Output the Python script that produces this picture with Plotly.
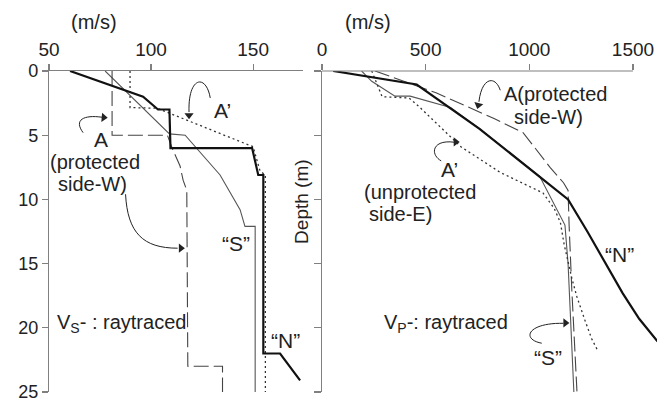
import plotly.graph_objects as go

# ---------------- data (left: Vs, right: Vp) ----------------
vs_N_v = [60.3, 96.1, 103.4, 109, 109.5, 149.5, 152.5, 155, 155, 163.2, 173]
vs_N_d = [0, 2.0, 3.0, 3.0, 6.0, 6.0, 8.1, 8.1, 22.0, 22.0, 24.1]
vs_S_v = [77.5, 109, 116.7, 133.8, 143.6, 146, 151, 151]
vs_S_d = [0, 4.9, 5.0, 8.1, 10.8, 12.1, 12.1, 25]
vs_A_v = [80.9, 80.9, 108, 110.3, 114.2, 115.7, 117.5, 118, 135, 135]
vs_A_d = [0, 5.0, 5.0, 6.0, 7.4, 8.5, 9.3, 23.0, 23.0, 25]
vs_Ap_v = [89.7, 89.7, 103, 150, 153.4, 156, 156]
vs_Ap_d = [0, 2.85, 2.9, 5.9, 7.8, 8.1, 25]

vp_N_v = [54, 457, 760, 1050, 1187, 1280, 1370, 1450, 1530, 1616, 1680]
vp_N_d = [0, 1.05, 4.5, 8.2, 10, 12.5, 15, 17.3, 19.3, 21, 22]
vp_S_v = [191, 240, 352, 425, 620, 760, 1050, 1109, 1172, 1187, 1215]
vp_S_d = [0, 0.8, 1.96, 1.96, 2.85, 4.5, 8.2, 10, 12, 15, 25]
vp_A_v = [256, 550, 830, 970, 1100, 1165, 1187, 1192, 1205, 1230]
vp_A_d = [0, 1.7, 3.7, 4.8, 7.5, 8.7, 9.3, 12, 17, 25]
vp_Ap_v = [240, 270, 290, 420, 470, 670, 860, 1066, 1120, 1150, 1168, 1206, 1230, 1268, 1302, 1331]
vp_Ap_d = [0, 1.3, 2.0, 2.1, 2.8, 5.9, 7.9, 9.5, 10.7, 11.8, 13.5, 16.2, 17.6, 19.4, 20.9, 21.8]

vs_ticks = [50, 100, 150]
vp_ticks = [0, 500, 1000, 1500]
depth_ticks = [0, 5, 10, 15, 20, 25]

FONT = "Liberation Sans, Arial, sans-serif"
TXT = "#222222"
AX = "#808080"

styles = {
    "N": dict(color="#111111", width=2.2),
    "S": dict(color="#555555", width=1.1),
    "A": dict(color="#444444", width=1.1, dash="15px,5px"),
    "Ap": dict(color="#333333", width=1.3, dash="2px,3px"),
}

fig = go.Figure()
for v, d, k in [(vs_S_v, vs_S_d, "S"), (vs_A_v, vs_A_d, "A"), (vs_Ap_v, vs_Ap_d, "Ap"), (vs_N_v, vs_N_d, "N")]:
    fig.add_trace(go.Scatter(x=v, y=d, mode="lines", line=styles[k], xaxis="x", yaxis="y",
                             showlegend=False, hoverinfo="skip"))
for v, d, k in [(vp_S_v, vp_S_d, "S"), (vp_A_v, vp_A_d, "A"), (vp_Ap_v, vp_Ap_d, "Ap"), (vp_N_v, vp_N_d, "N")]:
    fig.add_trace(go.Scatter(x=v, y=d, mode="lines", line=styles[k], xaxis="x2", yaxis="y2",
                             showlegend=False, hoverinfo="skip"))

axcommon = dict(showgrid=False, zeroline=False, linecolor=AX, linewidth=1.2, ticks="outside",
                tickcolor=AX, tickwidth=1.2, automargin=False, ticklabeloverflow="allow")
xfont = dict(family=FONT, size=19, color=TXT)
yfont = dict(family=FONT, size=18, color=TXT)

fig.update_layout(
    width=657, height=401,
    margin=dict(l=49, r=0, t=71, b=9, autoexpand=False),
    paper_bgcolor="white", plot_bgcolor="white",
    xaxis=dict(domain=[0, 0.418], range=[50, 174.5], side="top", tickvals=vs_ticks, ticklen=6,
               showline=True, anchor="y", tickfont=xfont, **axcommon),
    yaxis=dict(domain=[0, 1], range=[25, 0], tickvals=depth_ticks, ticklen=6, showline=True,
               anchor="x", tickfont=yfont, **axcommon),
    xaxis2=dict(domain=[0.449, 1.0], range=[0, 1616], side="top", tickvals=vp_ticks, ticklen=6,
                showline=False, anchor="y2", tickfont=xfont, **axcommon),
    yaxis2=dict(domain=[0, 1], range=[25, 0], tickvals=depth_ticks, ticklen=7, showline=True,
                showticklabels=False, anchor="x2", tickfont=yfont, **axcommon),
)

# right-panel top axis line only to 1500
fig.add_shape(type="line", xref="x2", yref="paper", x0=0, x1=1500, y0=1, y1=1,
              line=dict(color=AX, width=1.2))

# curved arrows (paths in data coords)
arrow_line = dict(color="#222222", width=1)
fig.add_shape(type="path", xref="x", yref="y", path="M 129,2.1 C 127,0.2 118,0.4 118.6,3.2", line=arrow_line)
fig.add_shape(type="path", xref="x", yref="y", path="M 66.7,4.8 C 62,3.8 67,3.4 76,3.6", line=arrow_line)
fig.add_shape(type="path", xref="x", yref="y", path="M 87.5,9.6 C 88.5,12.6 96,13.8 113,13.8", line=arrow_line)
fig.add_shape(type="path", xref="x2", yref="y2", path="M 860,1.5 C 835,0.3 770,0.5 757,2.4", line=arrow_line)
fig.add_shape(type="path", xref="x2", yref="y2", path="M 575,7.0 C 520,6.5 530,5.3 640,5.55", line=arrow_line)
fig.add_shape(type="path", xref="x2", yref="y2", path="M 1060,21.2 C 960,20.9 990,19.6 1165,19.65", line=arrow_line)

# arrowheads as rotated triangle markers (angle: 90 = right, 180 = down)
heads_left_v = [118.6, 76.8, 114.6]
heads_left_d = [3.45, 3.62, 13.8]
heads_left_ang = [180, 95, 90]
heads_right_v = [754, 645, 1174]
heads_right_d = [2.65, 5.52, 19.62]
heads_right_ang = [195, 90, 90]
fig.add_trace(go.Scatter(x=heads_left_v, y=heads_left_d, mode="markers", xaxis="x", yaxis="y",
                         marker=dict(symbol="triangle-up", size=8, color="#222222", angle=heads_left_ang),
                         showlegend=False, hoverinfo="skip"))
fig.add_trace(go.Scatter(x=heads_right_v, y=heads_right_d, mode="markers", xaxis="x2", yaxis="y2",
                         marker=dict(symbol="triangle-up", size=8, color="#222222", angle=heads_right_ang),
                         showlegend=False, hoverinfo="skip"))

def txt(xr, yr, x, y, s, size=21, xanchor="center", yanchor="middle", angle=0):
    fig.add_annotation(xref=xr, yref=yr, x=x, y=y, text=s, showarrow=False, xanchor=xanchor,
                       yanchor=yanchor, textangle=angle, font=dict(family=FONT, size=size, color=TXT))

txt("x", "paper", 72, 1.153, "(m/s)", size=20)
txt("x2", "paper", 222, 1.153, "(m/s)", size=20)
txt("paper", "paper", 0.416, 0.592, "Depth (m)", size=19, angle=-90)

txt("x", "y", 134.8, 3.04, "A’")
txt("x", "y", 75.5, 5.3, "A")
txt("x", "y", 72.5, 7.12, "(protected", size=20)
txt("x", "y", 71.1, 8.78, "side-W)", size=20)
txt("x", "y", 141.7, 13.4, "“S”")
txt("x", "y", 165.7, 21.0, "“N”")
txt("x", "y", 52.9, 19.7, "V<sub>S</sub>- : raytraced", size=20, xanchor="left")

txt("x2", "y2", 868, 1.8, "A(protected", size=20, xanchor="left")
txt("x2", "y2", 917, 3.55, "side-W)", size=20, xanchor="left")
txt("x2", "y2", 617, 7.7, "A’")
txt("x2", "y2", 193, 9.45, "(unprotected", size=20, xanchor="left")
txt("x2", "y2", 217, 11.15, "side-E)", size=20, xanchor="left")
txt("x2", "y2", 1433, 14.3, "“N”")
txt("x2", "y2", 289, 19.7, "V<sub>P</sub>-: raytraced", size=20, xanchor="left")
txt("x2", "y2", 1090, 22.3, "“S”")

fig.write_html("out.html", config={"displayModeBar": False, "staticPlot": True},
               post_script="document.body.style.margin='0';document.body.style.overflow='hidden';")
